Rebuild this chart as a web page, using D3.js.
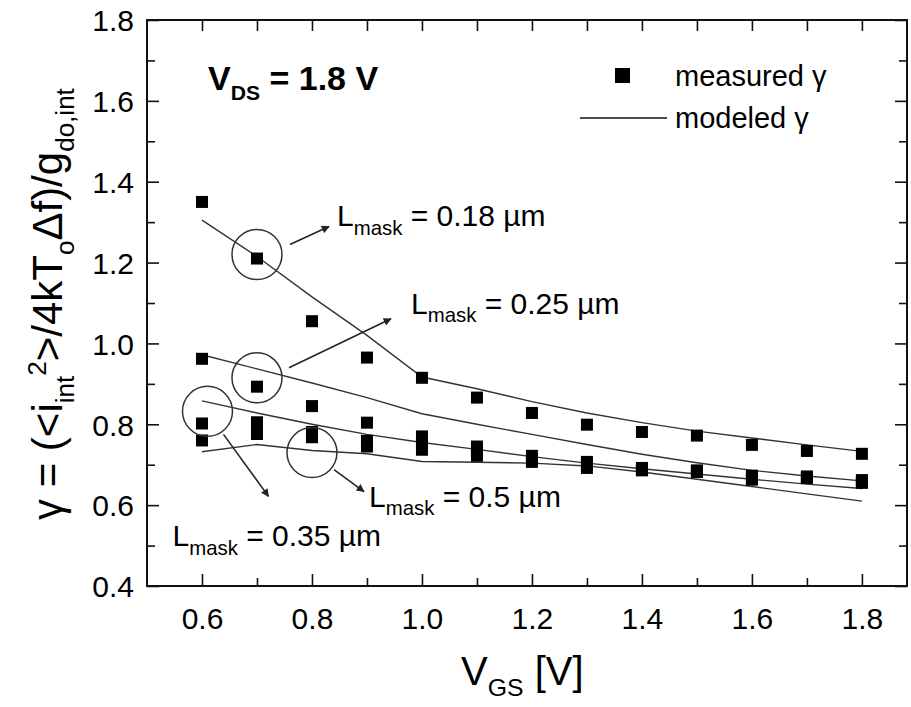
<!DOCTYPE html>
<html>
<head>
<meta charset="utf-8">
<script src="https://cdn.jsdelivr.net/npm/d3@7"></script>
<style>
  html, body { margin: 0; padding: 0; background: #fff; }
  svg { display: block; }
  text { font-family: "Liberation Sans", Arial, sans-serif; fill: #000; }
</style>
</head>
<body>
<svg id="chart" width="911" height="707"></svg>
<script>
// Gate bias sweep (V)
const vgs = [0.6, 0.7, 0.8, 0.9, 1.0, 1.1, 1.2, 1.3, 1.4, 1.5, 1.6, 1.7, 1.8];

// Channel lengths of the four devices
const lmaskLabels = ["0.18", "0.25", "0.35", "0.5"];

// Measured excess-noise factor gamma per device
const measured018 = [1.35, 1.21, 1.055, 0.965, 0.915, 0.866, 0.828, 0.799, 0.781, 0.772, 0.749, 0.734, 0.727];
const measured025 = [0.962, 0.893, 0.845, 0.804, 0.770, 0.745, 0.722, 0.707, 0.692, 0.686, 0.673, 0.671, 0.662];
const measured035 = [0.802, 0.805, 0.781, 0.759, 0.752, 0.735, 0.712, 0.700, 0.688, 0.684, 0.666, 0.669, 0.658];
const measured05  = [0.760, 0.776, 0.768, 0.745, 0.737, 0.722, 0.707, 0.692, 0.686, 0.682, 0.663, 0.667, 0.655];

// Modeled gamma per device
const modeled018 = [1.305, 1.215, 1.115, 1.020, 0.917, 0.888, 0.856, 0.828, 0.804, 0.783, 0.766, 0.749, 0.733];
const modeled025 = [0.972, 0.937, 0.902, 0.866, 0.826, 0.800, 0.775, 0.750, 0.726, 0.705, 0.686, 0.672, 0.660];
const modeled035 = [0.858, 0.828, 0.800, 0.775, 0.755, 0.738, 0.720, 0.704, 0.690, 0.677, 0.664, 0.652, 0.641];
const modeled05  = [0.732, 0.750, 0.735, 0.727, 0.708, 0.706, 0.704, 0.697, 0.682, 0.664, 0.646, 0.628, 0.610];

// Axis ticks
const xMajorTicks = [0.6, 0.8, 1.0, 1.2, 1.4, 1.6, 1.8];
const xMinorTicks = [0.7, 0.9, 1.1, 1.3, 1.5, 1.7];
const yMajorTicks = [0.4, 0.6, 0.8, 1.0, 1.2, 1.4, 1.6, 1.8];
const yMinorTicks = [0.5, 0.7, 0.9, 1.1, 1.3, 1.5, 1.7];

const measuredSeries = [measured018, measured025, measured035, measured05];
const modeledSeries = [modeled018, modeled025, modeled035, modeled05];

const svg = d3.select("#chart");
const L = 147, R = 907, T = 20, B = 586;

const x = d3.scaleLinear().domain([0.5, 1.882]).range([L, R]);
const y = d3.scaleLinear().domain([0.4, 1.8]).range([B, T]);

// arrow head
svg.append("defs").append("marker")
  .attr("id", "arrow").attr("viewBox", "0 0 10 10")
  .attr("refX", 9).attr("refY", 5)
  .attr("markerWidth", 11).attr("markerHeight", 8)
  .attr("markerUnits", "userSpaceOnUse")
  .attr("orient", "auto")
  .append("path").attr("d", "M0,0 L10,5 L0,10 Z").attr("fill", "#222");

// rich-text helper: segments of [text, "sub"|"sup"|null]
function rich(sel, segs, size, subScale) {
  const s = subScale || 0.66;
  let shift = 0;
  segs.forEach(([t, kind]) => {
    const target = kind === "sub" ? size * 0.28 : kind === "sup" ? -size * 0.38 : 0;
    sel.append("tspan")
      .attr("dy", target - shift)
      .attr("font-size", kind ? size * s : size)
      .text(t);
    shift = target;
  });
}

// axes (bottom / left with labels, top / right mirrored, ticks inward)
const axBottom = d3.axisBottom(x).tickValues(xMajorTicks).tickSize(-12).tickPadding(22).tickFormat(d3.format(".1f"));
const axBottomMinor = d3.axisBottom(x).tickValues(xMinorTicks).tickSize(-8).tickFormat("");
const axTop = d3.axisTop(x).tickValues(xMajorTicks.concat(xMinorTicks)).tickSize(-11).tickFormat("");
const axLeft = d3.axisLeft(y).tickValues(yMajorTicks).tickSize(-12).tickPadding(13).tickFormat(d3.format(".1f"));
const axLeftMinor = d3.axisLeft(y).tickValues(yMinorTicks).tickSize(-8).tickFormat("");
const axRight = d3.axisRight(y).tickValues(yMajorTicks).tickSize(-12).tickFormat("");
const axRightMinor = d3.axisRight(y).tickValues(yMinorTicks).tickSize(-8).tickFormat("");

function styleAxis(g) {
  g.select(".domain").remove();
  g.selectAll(".tick line").attr("stroke", "#111").attr("stroke-width", 1.6);
  g.selectAll(".tick text").attr("font-size", 30).attr("fill", "#111")
    .attr("font-family", "Liberation Sans, Arial, sans-serif");
}
svg.append("g").attr("class", "ax-bottom").attr("transform", `translate(0,${B})`).call(axBottom).call(styleAxis);
svg.append("g").attr("transform", `translate(0,${B})`).call(axBottomMinor).call(styleAxis);
svg.append("g").attr("transform", `translate(0,${T})`).call(axTop).call(styleAxis);
svg.append("g").attr("class", "ax-left").attr("transform", `translate(${L},0)`).call(axLeft).call(styleAxis);
svg.append("g").attr("transform", `translate(${L},0)`).call(axLeftMinor).call(styleAxis);
svg.append("g").attr("transform", `translate(${R},0)`).call(axRight).call(styleAxis);
svg.append("g").attr("transform", `translate(${R},0)`).call(axRightMinor).call(styleAxis);

svg.select(".ax-bottom").selectAll(".tick text").attr("dy", "0.71em");
svg.select(".ax-left").selectAll(".tick text").attr("dy", "0.36em");

// frame
svg.append("rect").attr("x", L).attr("y", T).attr("width", R - L).attr("height", B - T)
  .attr("fill", "none").attr("stroke", "#111").attr("stroke-width", 2);

// modeled curves
const line = d3.line().x((d, i) => x(vgs[i])).y(d => y(d));
svg.append("g").selectAll("path").data(modeledSeries).join("path")
  .attr("d", line).attr("fill", "none").attr("stroke", "#333").attr("stroke-width", 1.4);

// measured points
const sq = 12;
measuredSeries.forEach(vals => {
  svg.append("g").selectAll("rect").data(vals).join("rect")
    .attr("x", (d, i) => x(vgs[i]) - sq / 2).attr("y", d => y(d) - sq / 2)
    .attr("width", sq).attr("height", sq).attr("fill", "#000");
});

// annotations: circle around a curve, arrow and L_mask label
const notes = [
  { vx: 0.7, vy: 1.22, a0: [33, -10], a1: [72, -28], lab: [80, -28], text: lmaskLabels[0] },
  { vx: 0.7, vy: 0.915, a0: [32, -10], a1: [134, -59], lab: [154, -64], text: lmaskLabels[1] },
  { vx: 0.61, vy: 0.832, a0: [16, 23], a1: [61, 85], lab: [-35, 135], text: lmaskLabels[2] },
  { vx: 0.8, vy: 0.73, a0: [22, 17], a1: [52, 39], lab: [57, 54], text: lmaskLabels[3] }
];
notes.forEach(n => {
  const cx = x(n.vx), cy = y(n.vy);
  svg.append("circle").attr("cx", cx).attr("cy", cy).attr("r", 25)
    .attr("fill", "none").attr("stroke", "#333").attr("stroke-width", 1.5);
  svg.append("line")
    .attr("x1", cx + n.a0[0]).attr("y1", cy + n.a0[1])
    .attr("x2", cx + n.a1[0]).attr("y2", cy + n.a1[1])
    .attr("stroke", "#222").attr("stroke-width", 1.5).attr("marker-end", "url(#arrow)");
  const t = svg.append("text").attr("x", cx + n.lab[0]).attr("y", cy + n.lab[1]);
  rich(t, [["L", null], ["mask", "sub"], [" = " + n.text + " \u00b5m", null]], 30, 0.68);
});

// V_DS condition
const vds = svg.append("text").attr("x", 208).attr("y", 90).attr("font-weight", "bold");
rich(vds, [["V", null], ["DS", "sub"], [" = 1.8 V", null]], 34, 0.62);

// legend
svg.append("rect").attr("x", 615).attr("y", 68).attr("width", 15).attr("height", 15).attr("fill", "#000");
svg.append("text").attr("x", 675).attr("y", 86).attr("font-size", 29).text("measured \u03b3");
svg.append("line").attr("x1", 580).attr("x2", 667).attr("y1", 118).attr("y2", 118)
  .attr("stroke", "#111").attr("stroke-width", 1.6);
svg.append("text").attr("x", 675).attr("y", 128).attr("font-size", 29).text("modeled \u03b3");

// axis titles
const xt = svg.append("text").attr("x", 461).attr("y", 685);
rich(xt, [["V", null], ["GS", "sub"], [" [V]", null]], 40, 0.62);

const yt = svg.append("text").attr("transform", "translate(62,520) rotate(-90)");
rich(yt, [["\u03b3 = (<i", null], ["int", "sub"], ["2", "sup"], [">/4kT", null], ["o", "sub"],
          ["\u0394f)/g", null], ["do,int", "sub"]], 42, 0.62);
</script>
</body>
</html>
